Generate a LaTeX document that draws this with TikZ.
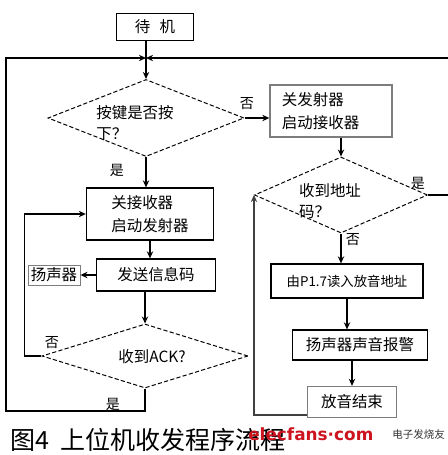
\documentclass[tikz,border=0pt]{standalone}
\usepackage{fontspec}
\setmainfont{Noto Sans CJK SC}
\newfontfamily\wmfont{DejaVu Sans}
\usepackage{tikz}
\usetikzlibrary{shapes.geometric, arrows.meta}
\definecolor{WmRed}{RGB}{205,20,30}
\definecolor{BoxGray}{RGB}{125,125,125}

\begin{document}
\begin{tikzpicture}[x=0.025cm, y=-0.025cm,
          blk/.style={rectangle, draw, line width=0.9pt, inner sep=0pt,
                      font=\fontsize{11}{16}\selectfont, align=left},
          dec/.style={diamond, draw, dash pattern=on 3pt off 1.6pt,
                      line width=0.7pt, inner sep=0pt},
          txt/.style={font=\fontsize{11}{15}\selectfont, align=left, inner sep=0pt},
          lbl/.style={font=\fontsize{10}{12}\selectfont, inner sep=0pt},
          arr/.style={-{Stealth[length=5pt, width=4.5pt]}, line width=1pt}
        ]
        \useasboundingbox (0,0) rectangle (448,455);

        % left column
        \node[blk, minimum width=1.925cm, minimum height=0.675cm] (wait) at (155,27) {待\hspace{0.6em}机};
        \coordinate (junc) at (146,58);
        \node[dec, minimum width=4.9cm, minimum height=1.925cm] (d1) at (146,118) {};
        \node[txt] (d1t) at (135,123) {按键是否按\\下？};
        \node[blk, minimum width=3.175cm, minimum height=1.3cm] (b1) at (150,214) {关接收器\\启动发射器};
        \node[blk, minimum width=2.975cm, minimum height=0.8cm] (b2) at (156,275) {发送信息码};
        \node[blk, draw=BoxGray, line width=0.6pt, minimum width=1.3cm, minimum height=0.5cm] (spk) at (54,275) {扬声器};
        \node[dec, minimum width=5.15cm, minimum height=1.6cm] (d2) at (145,356) {};
        \node[txt] (d2t) at (152,357) {收到ACK?};

        % right column
        \node[blk, draw=BoxGray, minimum width=3.05cm, minimum height=1.3cm, text width=2.45cm] (b3) at (331,111) {关发射器\\启动接收器};
        \node[dec, minimum width=4.325cm, minimum height=1.9cm] (d3) at (341,195) {};
        \node[txt] (d3t) at (330,201) {收到地址\\码？};
        \node[blk, font=\fontsize{9.5}{12}\selectfont, minimum width=3.8cm, minimum height=0.85cm] (b4) at (347,281) {由P1.7读入放音地址};
        \node[blk, minimum width=3.375cm, minimum height=0.75cm] (b5) at (360,345) {扬声器声音报警};
        \node[blk, draw=BoxGray, minimum width=2.225cm, minimum height=0.775cm] (b6) at (352,402) {放音结束};

        % branch labels
        \node[lbl] (l1) at (247,104) {否};
        \node[lbl] (l2) at (117,170) {是};
        \node[lbl] (l3) at (52,343) {否};
        \node[lbl] (l4) at (113,404) {是};
        \node[lbl] (l5) at (418,183) {是};
        \node[lbl] (l6) at (353,240) {否};

        % caption and mark
        \node[anchor=west, inner sep=0pt, font=\fontsize{17.8}{20}\selectfont] (cap) at (10,440) {图4\hspace{0.45em}上位机收发程序流程};
        \node[anchor=west, inner sep=0pt, text=WmRed, font=\wmfont\bfseries\fontsize{12}{14}\selectfont] (wm) at (248,434) {elecfans·com};
        \node[anchor=west, inner sep=0pt, text=black!80, font=\fontsize{7.5}{9}\selectfont] (wm2) at (392,434) {电子发烧友};

        % flow lines
        \draw[arr] (wait.south -| d1.north) -- (d1.north);
        \draw[arr] (d1.south) -- (d1.south |- b1.north);
        \draw[arr] (b1.south) -- (b1.south |- b2.north);
        \draw[arr] (b2) -- (spk);
        \draw[arr] (b2.south -| d2.north) -- (d2.north);
        \draw[arr] (d2.west) -- ++(-17,0) |- (b1.west);
        \coordinate (lc) at (6,411);
        \draw[arr, line width=1.2pt] (d2.south) |- (lc) |- (junc);

        \draw[arr] (d1.east) -- (d1.east -| b3.west);
        \draw[arr] (b3.south -| d3.north) -- (d3.north);
        \draw[arr] (d3.south) -- (d3.south |- b4.north);
        \draw[arr] (b4.south) -- (b4.south |- b5.north);
        \draw[arr] (b5.south -| b6.north) -- (b6.north);
        \draw[arr, black!75] ([yshift=0.08cm]b6.south west) -| (d3.west);
        \coordinate (rc) at (460,58);
        \draw[arr, line width=1.2pt] (d3.east) -| (rc) -- (junc);
      \end{tikzpicture}
\end{document}
